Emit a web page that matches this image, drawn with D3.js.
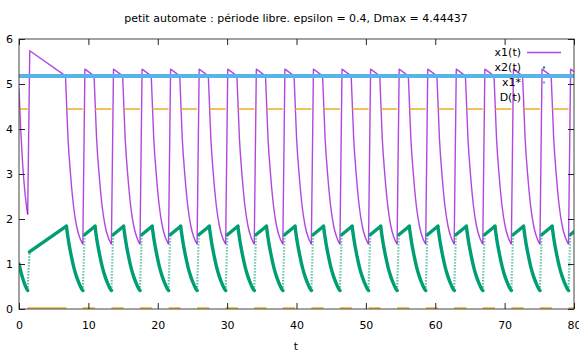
<!DOCTYPE html>
<html lang="fr">
<head>
<meta charset="utf-8">
<title>petit automate</title>
<script src="https://d3js.org/d3.v7.min.js"></script>
<style>
  body { margin: 0; background: #fff; }
  text { font-family: "DejaVu Sans", sans-serif; font-size: 11px; fill: #000; }
</style>
</head>
<body>
<div id="chart"></div>
<script>

// values
var title = "petit automate : période libre. epsilon = 0.4, Dmax = 4.44437";
var xTicks = [0, 10, 20, 30, 40, 50, 60, 70, 80];
var yTicks = [0, 1, 2, 3, 4, 5, 6];
var legendNames = ["x1(t)", "x2(t)", "x1*", "D(t)"];

var xStar = 5.18;
var dMax = 4.44437;

// start of each cycle (x1 at its low, x2 jumps)
var cycleStart = [1.25, 9.2, 13.32, 17.44, 21.55, 25.67, 29.79, 33.91, 38.03, 42.14,
                  46.26, 50.38, 54.5, 58.62, 62.73, 66.85, 70.97, 75.09, 79.21];
// x1 value at start of cycle and right after the jump
var x1Low = [2.1, 1.44, 1.44, 1.44, 1.44, 1.44, 1.44, 1.44, 1.44, 1.44,
             1.44, 1.44, 1.44, 1.44, 1.44, 1.44, 1.44, 1.44, 1.44];
var x1Peak = [5.74, 5.33, 5.33, 5.33, 5.33, 5.33, 5.33, 5.33, 5.33, 5.33,
              5.33, 5.33, 5.33, 5.33, 5.33, 5.33, 5.33, 5.33, 5.33];
// time where x1 reaches x1* and falls
var x1DropTime = [6.7, 10.82, 14.94, 19.06, 23.17, 27.29, 31.41, 35.53, 39.65, 43.76,
                  47.88, 52.0, 56.12, 60.24, 64.35, 68.47, 72.59, 76.71, 80.83];
// x2 value right after the jump
var x2Low = [1.27, 1.65, 1.65, 1.65, 1.65, 1.65, 1.65, 1.65, 1.65, 1.65,
             1.65, 1.65, 1.65, 1.65, 1.65, 1.65, 1.65, 1.65, 1.65];
// time of x2 top = time D switches on
var x2TopTime = [6.83, 10.95, 15.07, 19.19, 23.3, 27.42, 31.54, 35.66, 39.78, 43.89,
                 48.01, 52.13, 56.25, 60.37, 64.48, 68.6, 72.72, 76.84, 80.96];

// first piece, before the first jump
var x1Start = [[0, 4.9], [0.25, 3.98], [0.5, 3.29], [0.75, 2.77], [1.0, 2.38], [1.25, 2.1]];
var x2Start = [[0, 1.0], [0.3, 0.81], [0.6, 0.65], [0.9, 0.52], [1.25, 0.41]];

// shape of one fall of x1 (time after drop, value)
var x1Drop = [[0, 5.18], [0.36, 3.8], [0.75, 2.95], [1.15, 2.3], [1.59, 1.85], [2.02, 1.6], [2.5, 1.44]];
// shape of one decay of x2 (time after top, value)
var x2Decay = [[0, 1.84], [0.36, 1.46], [0.72, 1.17], [1.08, 0.92], [1.44, 0.73], [1.8, 0.58], [2.16, 0.46], [2.37, 0.41]];

var W = 579, H = 352;
var pLeft = 19, pRight = 574, pTop = 39, pBottom = 309;

var svg = d3.select("#chart").append("svg")
    .attr("width", W)
    .attr("height", H);

var x = d3.scaleLinear().domain([0, 80]).range([pLeft, pRight]);
var y = d3.scaleLinear().domain([0, 6]).range([pBottom, pTop]);

svg.append("clipPath").attr("id", "clip")
  .append("rect")
    .attr("x", pLeft).attr("y", 0)
    .attr("width", pRight - pLeft).attr("height", H);

var plot = svg.append("g").attr("clip-path", "url(#clip)");

var smooth = d3.line()
    .x(function(d) { return x(d[0]); })
    .y(function(d) { return y(d[1]); })
    .curve(d3.curveMonotoneX);
var straight = d3.line()
    .x(function(d) { return x(d[0]); })
    .y(function(d) { return y(d[1]); });

// ---- x1(t): straight jump + slow slide, smooth fall
var x1Straight = [];
var x1Smooth = [x1Start];
cycleStart.forEach(function(t, i) {
  x1Straight.push([[t, x1Low[i]], [t + 0.3, x1Peak[i]], [x1DropTime[i], xStar]]);
  x1Smooth.push(x1Drop.map(function(p) { return [x1DropTime[i] + p[0], p[1]]; }));
});

var x1g = plot.append("g")
    .attr("fill", "none")
    .attr("stroke", "#9400d3")
    .attr("stroke-opacity", 0.72)
    .attr("stroke-width", 1.4)
    .attr("stroke-linejoin", "round");
x1g.selectAll(".a").data(x1Straight).enter().append("path")
    .attr("class", "a")
    .attr("d", function(d) { return straight(d); });
x1g.selectAll(".b").data(x1Smooth).enter().append("path")
    .attr("class", "b")
    .attr("d", function(d) { return smooth(d); });

// ---- x2(t): dense points -> thick line, fast jumps -> dotted
var x2Smooth = [x2Start];
var x2Rise = [];
var x2Jumps = [];
cycleStart.forEach(function(t, i) {
  x2Jumps.push([[t, 0.41], [t + 0.25, x2Low[i]]]);
  x2Rise.push([[t + 0.25, x2Low[i]], [x2TopTime[i], x2Decay[0][1]]]);
  x2Smooth.push(x2Decay.map(function(p) { return [x2TopTime[i] + p[0], p[1]]; }));
});

var x2g = plot.append("g")
    .attr("fill", "none")
    .attr("stroke", "#009e73")
    .attr("stroke-width", 3.4)
    .attr("stroke-linecap", "round");
x2g.selectAll(".a").data(x2Rise).enter().append("path")
    .attr("class", "a")
    .attr("d", function(d) { return straight(d); });
x2g.selectAll(".b").data(x2Smooth).enter().append("path")
    .attr("class", "b")
    .attr("d", function(d) { return smooth(d); });

plot.selectAll(".x2j").data(x2Jumps).enter().append("path")
    .attr("class", "x2j")
    .attr("d", function(d) { return straight(d); })
    .attr("fill", "none")
    .attr("stroke", "#009e73")
    .attr("stroke-opacity", 0.7)
    .attr("stroke-width", 2.2)
    .attr("stroke-dasharray", "1.4,1.6");

// ---- x1*
plot.append("path")
    .attr("d", straight([[0, xStar], [80, xStar]]))
    .attr("stroke", "#56b4e9")
    .attr("stroke-width", 4);

// ---- D(t): Dmax or 0
var dSegs = [[[0, dMax], [cycleStart[0], dMax]]];
cycleStart.forEach(function(t, i) {
  var next = i + 1 < cycleStart.length ? cycleStart[i + 1] : 80;
  dSegs.push([[t, 0], [x2TopTime[i], 0]]);
  dSegs.push([[x2TopTime[i], dMax], [next, dMax]]);
});

plot.selectAll(".dseg").data(dSegs).enter().append("path")
    .attr("class", "dseg")
    .attr("d", function(d) { return straight(d); })
    .attr("transform", function(d) { return d[0][1] === 0 ? "translate(0,-1)" : null; })
    .attr("stroke", "#e69f00")
    .attr("stroke-opacity", 0.65)
    .attr("stroke-width", 2);

// ---- frame and ticks
svg.append("rect")
    .attr("x", pLeft).attr("y", pTop)
    .attr("width", pRight - pLeft).attr("height", pBottom - pTop)
    .attr("fill", "none")
    .attr("stroke", "#444")
    .attr("stroke-width", 1);

svg.append("g")
    .attr("transform", "translate(0," + pBottom + ")")
    .call(d3.axisBottom(x).tickValues(xTicks).tickFormat(d3.format("d"))
            .tickSizeInner(-6).tickSizeOuter(0).tickPadding(12))
    .call(function(g) { g.select(".domain").remove(); });
svg.append("g")
    .attr("transform", "translate(0," + pTop + ")")
    .call(d3.axisTop(x).tickValues(xTicks).tickSizeInner(-6).tickSizeOuter(0).tickFormat(""))
    .call(function(g) { g.select(".domain").remove(); });
svg.append("g")
    .attr("transform", "translate(" + pLeft + ",0)")
    .call(d3.axisLeft(y).tickValues(yTicks).tickFormat(d3.format("d"))
            .tickSizeInner(-6).tickSizeOuter(0).tickPadding(6))
    .call(function(g) { g.select(".domain").remove(); });
svg.append("g")
    .attr("transform", "translate(" + pRight + ",0)")
    .call(d3.axisRight(y).tickValues(yTicks).tickSizeInner(-6).tickSizeOuter(0).tickFormat(""))
    .call(function(g) { g.select(".domain").remove(); });

svg.selectAll(".tick line").attr("stroke", "#222");
svg.selectAll(".tick text")
    .attr("font-family", "DejaVu Sans")
    .attr("font-size", 11)
    .attr("fill", "#000");

// ---- title and axis label
svg.append("text")
    .attr("x", 296).attr("y", 22)
    .attr("text-anchor", "middle")
    .text(title);
svg.append("text")
    .attr("x", 296).attr("y", 349.5)
    .attr("text-anchor", "middle")
    .text("t");

// ---- key
var key = svg.append("g");
legendNames.forEach(function(n, i) {
  key.append("text")
      .attr("x", 521).attr("y", 56 + i * 15)
      .attr("text-anchor", "end")
      .text(n);
});
key.append("line")
    .attr("x1", 527).attr("x2", 561)
    .attr("y1", 52.5).attr("y2", 52.5)
    .attr("stroke", "#9400d3").attr("stroke-opacity", 0.72).attr("stroke-width", 1.4);
key.append("circle").attr("cx", 544).attr("cy", 67.5).attr("r", 1.2).attr("fill", "#009e73");
key.append("circle").attr("cx", 544).attr("cy", 82.5).attr("r", 1.2).attr("fill", "#56b4e9");
key.append("circle").attr("cx", 544).attr("cy", 97.5).attr("r", 0.8).attr("fill", "#e69f00").attr("fill-opacity", 0.5);

</script>
</body>
</html>
